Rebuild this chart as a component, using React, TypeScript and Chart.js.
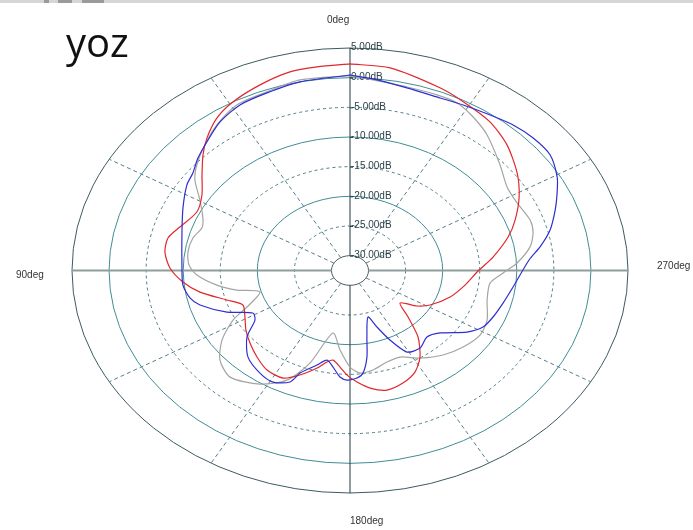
import React, { useEffect, useRef } from "react";
import { Chart, registerables } from "chart.js";

Chart.register(...registerables);

// ---- scale definition (dB rings) ----
const ringLevels = [5, 0, -5, -10, -15, -20, -25, -30];
const ringLabels = ["5.00dB", "0.00dB", "-5.00dB", "-10.00dB", "-15.00dB", "-20.00dB", "-25.00dB", "-30.00dB"];
const spokeAngles = [0, 30, 60, 90, 120, 150, 180, 210, 240, 270, 300, 330];
const angleLabels = ["0deg", "90deg", "180deg", "270deg"];
const chartTitle = "yoz";
const DB_MIN = -30;
const DB_MAX = 5;
const INNER = 2.5; // radius of the -30 dB circle, in dB units

// ---- series: angle (deg, 0 = top, counter-clockwise) and gain (dB) ----
const redAngles = [0, 7.4, 13.6, 21.2, 29.1, 34.9, 40.8, 45.5, 51.1, 57.5, 64.5, 72.3, 77.4, 82.9, 89.0, 94.9, 100.2, 106.7, 111.9, 118.9, 125.5, 132.2, 139.3, 146.3, 153.5, 159.0, 164.9, 168.6, 171.4, 175.3, 178.7, 182.9, 187.8, 193.9, 200.6, 207.1, 212.9, 219.3, 225.0, 230.9, 236.5, 241.7, 251.7, 261.0, 269.7, 276.7, 284.8, 290.9, 298.5, 306.1, 315.0, 323.0, 331.2, 338.5, 351.0, 360];
const redDb = [2.32, 2.11, 1.94, 1.06, 0.0, -1.14, -2.98, -4.7, -6.85, -8.82, -9.61, -8.41, -7.34, -7.34, -8.21, -9.88, -11.94, -15.17, -16.93, -16.31, -15.25, -14.29, -13.26, -12.33, -12.24, -13.63, -15.47, -16.76, -17.23, -16.17, -14.87, -13.67, -12.5, -11.74, -12.23, -13.26, -15.12, -18.01, -21.42, -23.81, -21.66, -20.23, -18.28, -16.79, -15.23, -13.07, -10.44, -8.66, -6.54, -4.6, -2.55, -1.13, -0.27, 0.59, 2.07, 2.32];

const grayAngles = [0, 11.9, 20.4, 28.7, 36.2, 42.8, 49.3, 53.9, 59.6, 66.0, 70.2, 75.5, 81.9, 87.5, 92.1, 97.8, 102.2, 106.6, 113.9, 117.9, 124.2, 130.7, 138.0, 147.6, 155.3, 160.9, 167.7, 174.3, 180, 184.5, 190.5, 197.9, 204.8, 212.6, 221.4, 229.8, 238.2, 245.7, 255.0, 263.6, 268.8, 273.2, 279.3, 284.4, 289.3, 296.8, 303.6, 311.3, 321.0, 327.3, 332.9, 338.4, 346.0, 354.5, 360];
const grayDb = [0.35, 0.32, -0.38, -0.7, -2.1, -3.68, -5.24, -6.61, -9.03, -10.78, -11.28, -10.61, -10.42, -10.75, -11.84, -14.38, -16.9, -19.82, -17.3, -14.64, -11.63, -9.36, -8.32, -9.83, -12.17, -15.99, -21.71, -19.02, -16.23, -15.16, -15.44, -16.28, -16.43, -14.98, -13.51, -12.53, -11.86, -12.21, -13.35, -13.49, -11.85, -9.93, -7.89, -7.0, -6.76, -7.25, -7.06, -5.55, -3.11, -1.75, -0.78, -0.66, -0.62, -0.23, 0.35];

const blueAngles = [0, 12.0, 20.5, 28.0, 35.0, 41.7, 47.2, 52.2, 56.8, 64.9, 74.0, 87.7, 96.2, 102.1, 106.0, 112.9, 118.7, 123.1, 128.9, 136.7, 144.9, 151.1, 156.7, 158.7, 164.4, 168.4, 172.0, 175.7, 178.8, 183.0, 185.8, 188.9, 191.5, 197.2, 200.9, 204.7, 209.2, 215.9, 222.8, 229.1, 236.7, 242.0, 247.9, 255.1, 262.8, 274.2, 278.8, 284.2, 290.2, 295.1, 299.4, 305.8, 312.1, 318.1, 324.2, 331.3, 337.3, 346.0, 354.5, 360];
const blueDb = [0.45, 0.0, -0.54, -0.89, -1.93, -3.48, -4.56, -5.68, -6.2, -7.62, -8.92, -9.81, -9.83, -10.42, -11.44, -14.48, -17.57, -17.2, -14.64, -12.44, -11.37, -11.02, -12.03, -13.94, -15.95, -17.09, -16.07, -14.49, -14.03, -14.35, -15.12, -17.73, -21.06, -24.29, -22.3, -19.6, -16.75, -16.37, -17.22, -16.42, -13.61, -12.18, -11.67, -11.14, -10.33, -8.28, -6.56, -4.66, -3.01, -1.65, -0.42, 0.79, 0.8, 0.46, -0.18, -0.7, -0.98, -0.78, -0.06, 0.45];

const R_MAX = DB_MAX - DB_MIN + INNER;

function toXY(angles: number[], dbs: number[]) {
  return angles.map((a, i) => {
    const r = Math.max(0, dbs[i] - DB_MIN + INNER);
    const t = (a * Math.PI) / 180;
    return { x: -r * Math.sin(t), y: r * Math.cos(t) };
  });
}

const gridPlugin = {
  id: "polarGrid",
  beforeDatasetsDraw(chart: any) {
    const ctx: CanvasRenderingContext2D = chart.ctx;
    const xs = chart.scales.x;
    const ys = chart.scales.y;
    const cx = xs.getPixelForValue(0);
    const cy = ys.getPixelForValue(0);
    const kx = xs.getPixelForValue(1) - cx;
    const ky = cy - ys.getPixelForValue(1);
    ctx.save();

    // top toolbar strip
    ctx.fillStyle = "#d6d6d6";
    ctx.fillRect(0, 0, chart.width, 3);
    ctx.fillStyle = "#9a9a9a";
    ctx.fillRect(44, 0, 5, 3);
    ctx.fillRect(58, 0, 14, 3);
    ctx.fillRect(82, 0, 22, 3);

    // rings
    ringLevels.forEach((lv) => {
      const r = lv - DB_MIN + INNER;
      ctx.beginPath();
      ctx.ellipse(cx, cy, r * kx, r * ky, 0, 0, Math.PI * 2);
      ctx.lineWidth = 1;
      if (lv === DB_MAX) {
        ctx.setLineDash([]);
        ctx.strokeStyle = "#3b5a60";
      } else if (lv === DB_MIN) {
        ctx.setLineDash([]);
        ctx.strokeStyle = "#4a5a5c";
      } else if (lv % 10 === 0) {
        ctx.setLineDash([]);
        ctx.strokeStyle = "#3f8d96";
      } else {
        ctx.setLineDash([3, 3]);
        ctx.strokeStyle = "#4f7f88";
      }
      ctx.stroke();
    });

    // spokes and axes
    const rIn = INNER;
    spokeAngles.forEach((a) => {
      const t = (a * Math.PI) / 180;
      const sx = -Math.sin(t) * kx;
      const sy = -Math.cos(t) * ky;
      ctx.beginPath();
      ctx.moveTo(cx + sx * rIn, cy + sy * rIn);
      ctx.lineTo(cx + sx * R_MAX, cy + sy * R_MAX);
      if (a === 0 || a === 180) {
        ctx.setLineDash([]);
        ctx.strokeStyle = "#1e3a40";
        ctx.lineWidth = 1;
      } else if (a === 90 || a === 270) {
        ctx.setLineDash([]);
        ctx.strokeStyle = "#8e9e9e";
        ctx.lineWidth = 2;
      } else {
        ctx.setLineDash([4, 3]);
        ctx.strokeStyle = "#567f88";
        ctx.lineWidth = 1;
      }
      ctx.stroke();
    });
    ctx.setLineDash([]);

    // dB labels along the top axis
    ctx.font = "10px 'Liberation Sans', Arial, sans-serif";
    ctx.fillStyle = "#2c4248";
    ctx.textAlign = "left";
    ctx.textBaseline = "middle";
    ringLevels.forEach((lv, i) => {
      const r = lv - DB_MIN + INNER;
      const y = cy - r * ky;
      ctx.beginPath();
      ctx.moveTo(cx, y + 0.5);
      ctx.lineTo(cx + 3, y + 0.5);
      ctx.strokeStyle = "#2c4248";
      ctx.lineWidth = 1;
      ctx.stroke();
      ctx.fillText(ringLabels[i], cx + 1, y - 0.5);
    });

    // angle labels
    ctx.fillStyle = "#333333";
    ctx.textBaseline = "middle";
    const top = cy - R_MAX * ky;
    const bottom = cy + R_MAX * ky;
    const left = cx - R_MAX * kx;
    const right = cx + R_MAX * kx;
    ctx.textAlign = "left";
    ctx.fillText(angleLabels[0], cx - 23, top - 28);
    ctx.fillText(angleLabels[1], left - 56, cy + 5);
    ctx.fillText(angleLabels[2], cx, bottom + 28);
    ctx.fillText(angleLabels[3], right + 29, cy - 4);

    // title text
    ctx.fillStyle = "#111111";
    ctx.font = "40px 'Open Sans', 'Noto Sans', sans-serif";
    ctx.textBaseline = "alphabetic";
    ctx.fillText(chartTitle, 66, 57);

    ctx.restore();
  },
};

export default function App() {
  const ref = useRef<HTMLCanvasElement | null>(null);
  useEffect(() => {
    if (!ref.current) return;
    const chart = new Chart(ref.current, {
      type: "scatter",
      data: {
        datasets: [
          {
            label: "blue",
            data: toXY(blueAngles, blueDb),
            showLine: true,
            borderColor: "#2e2ed2",
            borderWidth: 1.2,
            pointRadius: 0,
            tension: 0.25,
            fill: false,
          },
          {
            label: "red",
            data: toXY(redAngles, redDb),
            showLine: true,
            borderColor: "#e0282c",
            borderWidth: 1.2,
            pointRadius: 0,
            tension: 0.25,
            fill: false,
          },
          {
            label: "gray",
            data: toXY(grayAngles, grayDb),
            showLine: true,
            borderColor: "#a4a4a4",
            borderWidth: 1.2,
            pointRadius: 0,
            tension: 0.25,
            fill: false,
          },
        ],
      },
      options: {
        animation: false,
        responsive: false,
        devicePixelRatio: 1,
        layout: { padding: { left: 72, right: 65, top: 48, bottom: 37 } },
        scales: {
          x: { type: "linear", min: -R_MAX, max: R_MAX, display: false },
          y: { type: "linear", min: -R_MAX, max: R_MAX, display: false },
        },
        plugins: {
          legend: { display: false },
          tooltip: { enabled: false },
        },
      },
      plugins: [gridPlugin],
    });
    return () => chart.destroy();
  }, []);
  return (
    <div style={{ position: "fixed", left: 0, top: 0, width: 693, height: 530, background: "#ffffff" }}>
      <canvas ref={ref} width={693} height={530} />
    </div>
  );
}
